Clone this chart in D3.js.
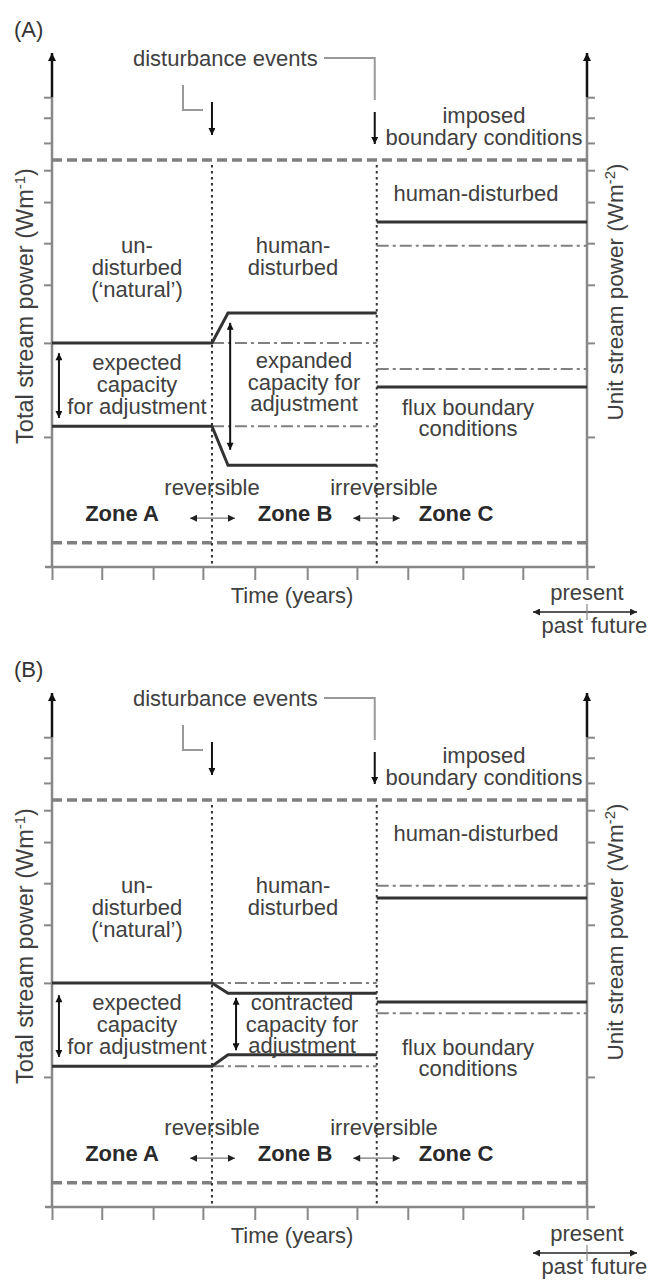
<!DOCTYPE html>
<html>
<head>
<meta charset="utf-8">
<script src="https://cdn.jsdelivr.net/npm/d3@7"></script>
<style>
  html, body { margin: 0; padding: 0; background: #fff; }
  svg { display: block; }
  text { font-family: "Liberation Sans", Arial, sans-serif; fill: #404040; }
</style>
</head>
<body>
<script>
// ---------------- data (arbitrary time units 0-100, power units 0-100) ----------------
const xTickValues = [0, 9.3, 18.9, 28.2, 37.9, 47.7, 57.0, 66.5, 76.8, 88.0, 100];
const yTickValues = [25.3, 43.6, 54.9, 63.0, 71.0, 77.2, 82.5, 87.4, 91.4];
const eventTimes = [29.9, 60.7];
const imposedLevels = [79.2, 4.7];

// Panel A
const aUpperSolid = [[0, 43.6], [29.9, 43.6], [32.9, 49.4], [60.7, 49.4]];
const aLowerSolid = [[0, 27.4], [29.9, 27.4], [32.9, 19.8], [60.7, 19.8]];
const aRefDashDot = [[[29.9, 43.6], [60.7, 43.6]], [[29.9, 27.4], [60.7, 27.4]]];
const aZoneCSolid = [[[60.7, 67.1], [100, 67.1]], [[60.7, 35.0], [100, 35.0]]];
const aZoneCDashDot = [[[60.7, 62.5], [100, 62.5]], [[60.7, 38.5], [100, 38.5]]];
const aCapacityArrows = [[1.3, 41.6, 29.0], [33.3, 47.5, 22.8]];

// Panel B
const bUpperSolid = [[0, 43.6], [29.9, 43.6], [32.9, 41.6], [60.7, 41.6]];
const bLowerSolid = [[0, 27.4], [29.9, 27.4], [32.9, 29.6], [60.7, 29.6]];
const bRefDashDot = [[[29.9, 43.6], [60.7, 43.6]], [[29.9, 27.4], [60.7, 27.4]]];
const bZoneCSolid = [[[60.7, 60.1], [100, 60.1]], [[60.7, 39.9], [100, 39.9]]];
const bZoneCDashDot = [[[60.7, 62.5], [100, 62.5]], [[60.7, 37.7], [100, 37.7]]];
const bCapacityArrows = [[1.3, 41.2, 29.2], [34.4, 40.7, 30.5]];

// zone transition arrows (x from, x to, y)
const transitionArrows = [[25.8, 34.2, 9.5], [56.3, 65.0, 9.5]];

// ---------------- layout ----------------
const W = 649, H = 1281;
const svg = d3.select("body").append("svg").attr("width", W).attr("height", H);

const defs = svg.append("defs");
function marker(id, color, w, h, orientAuto) {
  defs.append("marker")
    .attr("id", id)
    .attr("viewBox", "0 0 10 10")
    .attr("refX", 10).attr("refY", 5)
    .attr("markerUnits", "userSpaceOnUse")
    .attr("markerWidth", w).attr("markerHeight", h)
    .attr("orient", orientAuto)
    .append("path").attr("d", "M0,0 L10,5 L0,10 z").attr("fill", color);
}
marker("arrBig", "#111", 9, 8, "auto-start-reverse");
marker("arrSmall", "#111", 8, 7, "auto-start-reverse");
marker("arrThin", "#222", 9, 7, "auto-start-reverse");

const x = d3.scaleLinear().domain([0, 100]).range([52, 587]);
const y = d3.scaleLinear().domain([0, 100]).range([567, 53]);
const line = d3.line().x(d => x(d[0])).y(d => y(d[1]));

const panels = [
  { label: "(A)", dy: 0, upper: aUpperSolid, lower: aLowerSolid, ref: aRefDashDot,
    cSolid: aZoneCSolid, cDash: aZoneCDashDot, caps: aCapacityArrows,
    mid: ["expanded", "capacity for", "adjustment"], midX: 304, midY: 368, bottomDy: 0 },
  { label: "(B)", dy: 640, upper: bUpperSolid, lower: bLowerSolid, ref: bRefDashDot,
    cSolid: bZoneCSolid, cDash: bZoneCDashDot, caps: bCapacityArrows,
    mid: ["contracted", "capacity for", "adjustment"], midX: 302, midY: 370, bottomDy: 1 }
];

const FS = 22;

function txt(g, str, px, py, anchor, opts = {}) {
  return g.append("text").attr("x", px).attr("y", py)
    .attr("text-anchor", anchor)
    .attr("font-size", opts.size || FS)
    .attr("font-weight", opts.bold ? "bold" : null)
    .style("fill", opts.color || "#404040")
    .text(str);
}
function multi(g, lines, px, py, lh) {
  const t = g.append("text").attr("x", px).attr("y", py)
    .attr("text-anchor", "middle").attr("font-size", FS).style("fill", "#404040");
  lines.forEach((s, i) => t.append("tspan").attr("x", px).attr("dy", i === 0 ? 0 : lh).text(s));
  return t;
}

panels.forEach(p => {
  const g = svg.append("g").attr("transform", `translate(0,${p.dy})`);

  // ----- axes -----
  const axL = g.append("g").attr("transform", `translate(${x(0)},0)`)
    .call(d3.axisLeft(y).tickValues(yTickValues).tickSize(8).tickFormat(""));
  const axR = g.append("g").attr("transform", `translate(${x(100)},0)`)
    .call(d3.axisRight(y).tickValues(yTickValues).tickSize(8).tickFormat(""));
  const axB = g.append("g").attr("transform", `translate(0,${y(0)})`)
    .call(d3.axisBottom(x).tickValues(xTickValues).tickSize(13).tickFormat(""));
  [axL, axR, axB].forEach(a => {
    a.select(".domain").remove();
    a.selectAll(".tick line").attr("stroke", "#888").attr("stroke-width", 2);
  });
  // x axis line
  g.append("line").attr("x1", x(0) - 7).attr("x2", x(100) + 8)
    .attr("y1", y(0)).attr("y2", y(0)).attr("stroke", "#888").attr("stroke-width", 2.5);
  // vertical axes (gray body, dark top with arrow)
  [0, 100].forEach(v => {
    g.append("line").attr("x1", x(v)).attr("x2", x(v))
      .attr("y1", y(0)).attr("y2", y(91.4)).attr("stroke", "#888").attr("stroke-width", 2.5);
    g.append("line").attr("x1", x(v)).attr("x2", x(v))
      .attr("y1", y(91.4)).attr("y2", y(100))
      .attr("stroke", "#111").attr("stroke-width", 2.5).attr("marker-end", "url(#arrBig)");
  });

  // ----- imposed boundary (dashed) -----
  imposedLevels.forEach(v => {
    g.append("path").attr("d", line([[0, v], [100, v]]))
      .attr("stroke", "#808080").attr("stroke-width", 3.5).attr("fill", "none")
      .attr("stroke-dasharray", "10,5");
  });

  // ----- event dotted lines -----
  eventTimes.forEach(t => {
    g.append("path").attr("d", line([[t, imposedLevels[0] - 1], [t, 0]]))
      .attr("stroke", "#333").attr("stroke-width", 2).attr("fill", "none")
      .attr("stroke-dasharray", "2.5,3.5");
  });

  // ----- dash-dot references -----
  p.ref.concat(p.cDash).forEach(s => {
    g.append("path").attr("d", line(s))
      .attr("stroke", "#808080").attr("stroke-width", 2).attr("fill", "none")
      .attr("stroke-dasharray", "12,4,3,4");
  });

  // ----- solid capacity bounds -----
  [p.upper, p.lower].concat(p.cSolid).forEach(s => {
    g.append("path").attr("d", line(s))
      .attr("stroke", "#333").attr("stroke-width", 3).attr("fill", "none");
  });

  // ----- capacity double arrows -----
  p.caps.forEach(c => {
    g.append("line").attr("x1", x(c[0])).attr("x2", x(c[0]))
      .attr("y1", y(c[1])).attr("y2", y(c[2]))
      .attr("stroke", "#111").attr("stroke-width", 2)
      .attr("marker-start", "url(#arrSmall)").attr("marker-end", "url(#arrSmall)");
  });

  // ----- transition arrows -----
  transitionArrows.forEach(a => {
    g.append("line").attr("x1", x(a[0])).attr("x2", x(a[1]))
      .attr("y1", y(a[2])).attr("y2", y(a[2]))
      .attr("stroke", "#777").attr("stroke-width", 1.2)
      .attr("marker-start", "url(#arrThin)").attr("marker-end", "url(#arrThin)");
  });

  // ----- disturbance event annotations -----
  txt(g, p.label, 14, 37, "start", { size: 22, color: "#333" });
  txt(g, "disturbance events", 133, 66, "start");
  g.append("path").attr("d", `M324,58 H${x(eventTimes[1]) - 2} V100`)
    .attr("stroke", "#999").attr("stroke-width", 2).attr("fill", "none");
  g.append("line").attr("x1", x(eventTimes[1]) - 2).attr("x2", x(eventTimes[1]) - 2)
    .attr("y1", 112).attr("y2", 144).attr("stroke", "#111").attr("stroke-width", 2)
    .attr("marker-end", "url(#arrSmall)");
  g.append("path").attr("d", "M183,85 V110 H203")
    .attr("stroke", "#999").attr("stroke-width", 2).attr("fill", "none");
  g.append("line").attr("x1", x(eventTimes[0])).attr("x2", x(eventTimes[0]))
    .attr("y1", 102).attr("y2", 135).attr("stroke", "#111").attr("stroke-width", 2)
    .attr("marker-end", "url(#arrSmall)");

  // ----- region labels -----
  multi(g, ["imposed", "boundary conditions"], 484, 123, 22);
  txt(g, "human-disturbed", 476, 201, "middle");
  multi(g, ["un-", "disturbed", "(\u2018natural\u2019)"], 137, 253, 22);
  multi(g, ["human-", "disturbed"], 293, 253, 22);
  multi(g, ["expected", "capacity", "for adjustment"], 137, 370, 22);
  multi(g, p.mid, p.midX, p.midY, 21.5);
  multi(g, ["flux boundary", "conditions"], 468, 415, 21);
  txt(g, "reversible", 212, 495, "middle");
  txt(g, "irreversible", 384, 495, "middle");
  txt(g, "Zone A", 122, 521, "middle", { bold: true, color: "#2a2a2a" });
  txt(g, "Zone B", 295, 521, "middle", { bold: true, color: "#2a2a2a" });
  txt(g, "Zone C", 456, 521, "middle", { bold: true, color: "#2a2a2a" });

  // ----- axis titles -----
  txt(g, "Time (years)", 292, 603, "middle");
  const bd = p.bottomDy;
  txt(g, "present", x(100), 600 + bd, "middle");
  txt(g, "past", x(100) - 4, 633 + bd, "end");
  txt(g, "future", x(100) + 4, 633 + bd, "start");
  g.append("line").attr("x1", 533).attr("x2", 637).attr("y1", 612 + bd).attr("y2", 612 + bd)
    .attr("stroke", "#222").attr("stroke-width", 1.5)
    .attr("marker-start", "url(#arrThin)").attr("marker-end", "url(#arrThin)");
  g.append("line").attr("x1", x(100)).attr("x2", x(100)).attr("y1", 604 + bd).attr("y2", 620 + bd)
    .attr("stroke", "#888").attr("stroke-width", 1.2);

  const lt = g.append("text").attr("transform", "translate(33,306) rotate(-90)")
    .attr("text-anchor", "middle").attr("font-size", 23.5).style("fill", "#404040");
  lt.append("tspan").text("Total stream power (Wm");
  lt.append("tspan").attr("baseline-shift", "super").attr("font-size", 15).text("-1");
  lt.append("tspan").text(")");

  const rt = g.append("text").attr("transform", "translate(623,292) rotate(-90)")
    .attr("text-anchor", "middle").attr("font-size", 22.5).style("fill", "#404040");
  rt.append("tspan").text("Unit stream power (Wm");
  rt.append("tspan").attr("baseline-shift", "super").attr("font-size", 15).text("-2");
  rt.append("tspan").text(")");
});
</script>
</body>
</html>
